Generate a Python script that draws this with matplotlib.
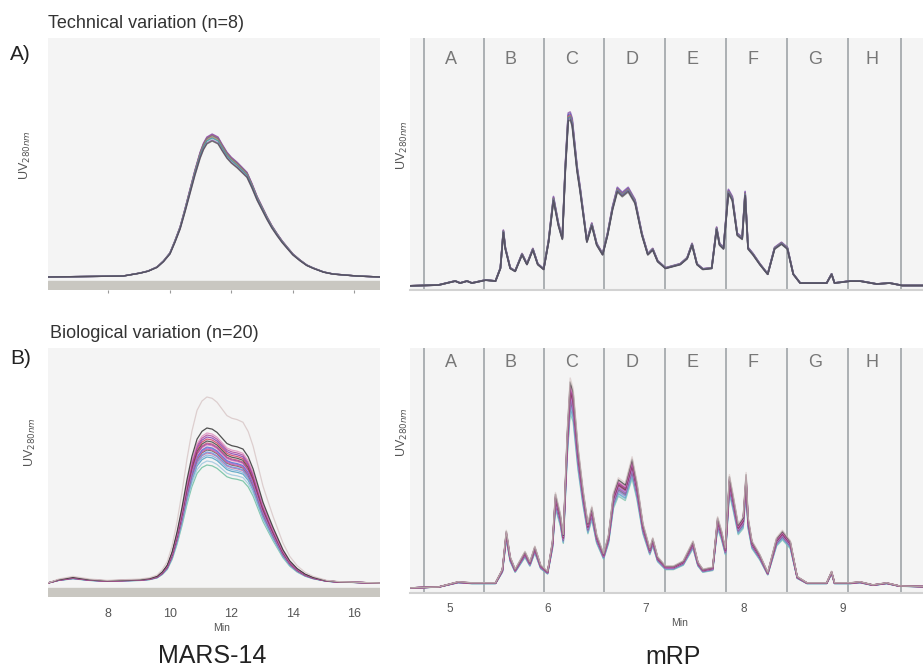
import numpy as np
import matplotlib
matplotlib.use("Agg")
import matplotlib.pyplot as plt

plt.rcParams['font.family'] = ['Liberation Sans', 'DejaVu Sans']

# MARS-14 profile (min, UV)
mars_t = [6.05, 8.49, 9.04, 9.3, 9.59, 9.8, 10.01, 10.17, 10.34, 10.5, 10.66, 10.82,
          10.99, 11.1, 11.21, 11.38, 11.57, 11.7, 11.86, 12.0, 12.19, 12.35, 12.51,
          12.67, 12.84, 13.0, 13.16, 13.32, 13.49, 13.65, 13.81, 14.0, 14.23, 14.45,
          14.66, 15.0, 15.31, 16.08, 16.83]
mars_tech = [0, 1, 4, 6, 10, 16, 24, 36, 50, 68, 87, 106,
             124, 133, 139, 142, 139, 132, 124, 119, 114, 109, 104,
             93, 80, 70, 60, 51, 43, 36, 30, 23, 17, 12,
             9, 5, 3, 1, 0]

mars_bio_t = [6.05, 6.4, 6.86, 7.4, 7.97, 9.04, 9.35, 9.59, 9.76, 9.92, 10.08, 10.24,
              10.4, 10.56, 10.72, 10.89, 11.05, 11.21, 11.38, 11.54, 11.7, 11.86, 12.02,
              12.19, 12.38, 12.55, 12.71, 12.87, 13.03, 13.2, 13.36, 13.52, 13.68, 13.9,
              14.14, 14.4, 14.66, 15.1, 15.53, 16.83]
mars_bio = [0, 3, 5, 3, 2, 3, 4, 6, 10, 16, 28, 46,
            68, 93, 114, 130, 137, 140, 139, 136, 131, 126, 124,
            123, 121, 114, 103, 88, 73, 61, 50, 40, 30, 20,
            13, 8, 5, 2, 1, 0]

# peak heights of the individual runs
mars_tech_peaks = [143, 142, 142, 141, 140, 139, 137, 136]
mars_bio_peaks = [186, 155, 150, 148, 146, 144, 142, 140, 139, 138,
                  136, 135, 134, 133, 131, 130, 128, 126, 122, 118]

# mRP profiles
mrp_t = [4.55, 4.89, 5.06, 5.11, 5.18, 5.23, 5.37, 5.47, 5.52, 5.55, 5.57, 5.62, 5.67,
         5.74, 5.79, 5.85, 5.90, 5.96, 6.01, 6.06, 6.11, 6.15, 6.18, 6.21, 6.23, 6.25,
         6.30, 6.33, 6.40, 6.45, 6.50, 6.56, 6.61, 6.66, 6.71, 6.76, 6.82, 6.89, 6.96,
         7.02, 7.07, 7.12, 7.20, 7.35, 7.42, 7.47, 7.52, 7.58, 7.67, 7.72, 7.75, 7.79,
         7.84, 7.88, 7.93, 7.98, 8.01, 8.04, 8.09, 8.16, 8.24, 8.31, 8.38, 8.44, 8.50,
         8.57, 8.84, 8.89, 8.92, 9.08, 9.18, 9.35, 9.48, 9.61, 9.82]
mrp_tech = [0, 1, 5, 3, 5, 3, 6, 5, 18, 55, 38, 18, 15,
            32, 22, 37, 22, 17, 45, 88, 62, 48, 118, 170, 171, 165,
            118, 98, 45, 62, 42, 32, 52, 78, 97, 92, 97, 85, 52,
            32, 37, 25, 18, 22, 28, 42, 22, 17, 18, 58, 42, 38,
            95, 88, 52, 48, 93, 38, 32, 22, 12, 38, 43, 38, 12,
            3, 3, 12, 3, 5, 5, 2, 3, 0.5, 0.5]

mrp_bio_t = [4.55, 4.89, 5.09, 5.23, 5.47, 5.54, 5.58, 5.62, 5.67, 5.77, 5.82, 5.87,
             5.93, 6.00, 6.05, 6.08, 6.13, 6.16, 6.20, 6.23, 6.26, 6.31, 6.36, 6.41,
             6.45, 6.50, 6.57, 6.62, 6.67, 6.72, 6.79, 6.86, 6.91, 6.97, 7.04, 7.07,
             7.12, 7.20, 7.28, 7.38, 7.48, 7.53, 7.58, 7.68, 7.73, 7.77, 7.81, 7.85,
             7.89, 7.94, 7.99, 8.02, 8.04, 8.08, 8.16, 8.24, 8.33, 8.39, 8.47, 8.54,
             8.64, 8.84, 8.89, 8.92, 9.08, 9.18, 9.31, 9.45, 9.58, 9.82]
mrp_bio = [0, 1, 6, 5, 5, 18, 55, 30, 18, 35, 25, 40,
           22, 16, 45, 91, 71, 51, 150, 200, 190, 135, 95, 62,
           78, 51, 33, 51, 91, 105, 100, 125, 101, 62, 38, 48,
           30, 21, 21, 26, 45, 25, 18, 20, 68, 55, 38, 108,
           88, 61, 68, 110, 68, 45, 32, 15, 48, 55, 45, 11,
           5, 5, 16, 5, 5, 6, 3, 5, 2, 1.5]

mrp_tech_peaks = [174, 172, 171, 170, 170, 169, 168, 166]
mrp_bio_peaks = [210, 206, 203, 201, 200, 199, 197, 196, 195, 193,
                 192, 190, 190, 188, 186, 185, 183, 180, 178, 175]

fractions = ['A', 'B', 'C', 'D', 'E', 'F', 'G', 'H']
frac_edges = [4.74, 5.35, 5.965, 6.575, 7.195, 7.815, 8.435, 9.06, 9.60]

tech_colors = ['#7b3f9e', '#3a5fcd', '#d04a7a', '#4a9a6a', '#e07070',
               '#20a0a0', '#8a5aa8', '#4a4a4a']
bio_colors = ['#d9c8c8', '#333333', '#e090c0', '#b04a9a', '#8a3fb0', '#d04060',
              '#444444', '#c05080', '#9a4ab0', '#f090c0', '#5a70d0', '#a070d0',
              '#e05a9a', '#606060', '#7090e0', '#c070a0', '#80b0e0', '#50a0c0',
              '#a0c8e0', '#70c0a0']
bg = '#f4f4f4'

fig = plt.figure(figsize=(9.23, 6.72), dpi=100)


def px_axes(x0, y0, x1, y1):
    return fig.add_axes([x0 / 923, 1 - y1 / 672, (x1 - x0) / 923, (y1 - y0) / 672])


def draw_traces(ax, t, prof, peaks, colors, lw=1.0, alpha=0.85, top_last=False):
    prof = np.array(prof, dtype=float)
    ref = prof.max()
    order = list(range(len(peaks)))
    if not top_last:
        order = order[::-1]
    for i in order:
        ax.plot(t, prof * peaks[i] / ref, color=colors[i], lw=lw, alpha=alpha,
                solid_joinstyle='round')


def style_left(ax, ylim, bar, labels):
    ax.set_facecolor(bg)
    for s in ax.spines.values():
        s.set_visible(False)
    ax.axhspan(bar[0], bar[1], color='#c9c7c1', zorder=0.5)
    ax.set_xlim(6.05, 16.83)
    ax.set_ylim(*ylim)
    ax.set_yticks([])
    ax.set_xticks([8, 10, 12, 14, 16])
    if labels:
        ax.tick_params(axis='x', length=0, pad=8, labelsize=9, labelcolor='#555555')
    else:
        ax.tick_params(axis='x', length=2, color='#999999', labelbottom=False)


def style_right(ax, ylim, letter_y, labels):
    ax.set_facecolor(bg)
    for s in ['top', 'right', 'left']:
        ax.spines[s].set_visible(False)
    ax.spines['bottom'].set_color('#d2d2d2')
    ax.spines['bottom'].set_linewidth(1.5)
    ax.set_xlim(4.60, 9.82)
    ax.set_ylim(*ylim)
    ax.set_yticks([])
    for e in frac_edges:
        ax.axvline(e, color='#a6aaae', lw=1.3, zorder=1)
    for i, f in enumerate(fractions):
        mid = (frac_edges[i] + frac_edges[i + 1]) / 2 - 0.03
        ax.text(mid, letter_y, f, transform=ax.get_xaxis_transform(), ha='center',
                va='center', fontsize=13, color='#777777')
    ax.set_xticks([5, 6, 7, 8, 9])
    if labels:
        ax.tick_params(axis='x', length=0, pad=7, labelsize=8.5, labelcolor='#555555')
    else:
        ax.tick_params(axis='x', length=0, labelbottom=False)


ax1 = px_axes(48, 38, 380, 290)
style_left(ax1, (-13, 239), (-13, -4), False)
draw_traces(ax1, mars_t, mars_tech, mars_tech_peaks, tech_colors, alpha=0.75,
            top_last=True)

ax2 = px_axes(410, 38, 923, 290)
style_right(ax2, (-4, 248), 0.913, False)
draw_traces(ax2, mrp_t, mrp_tech, mrp_tech_peaks, tech_colors, lw=1.2, alpha=0.7,
            top_last=True)

ax3 = px_axes(48, 348, 380, 597)
style_left(ax3, (-14, 235), (-14, -5), True)
draw_traces(ax3, mars_bio_t, mars_bio, mars_bio_peaks, bio_colors, lw=0.9)

ax4 = px_axes(410, 348, 923, 593)
style_right(ax4, (-5, 240), 0.939, True)
draw_traces(ax4, mrp_bio_t, mrp_bio, mrp_bio_peaks, bio_colors, lw=1.0, alpha=0.7)

# figure texts
fig.text(48 / 923, 1 - 24 / 672, 'Technical variation (n=8)', fontsize=13,
         color='#333333', va='center')
fig.text(10 / 923, 1 - 54 / 672, 'A)', fontsize=15, color='#222222', va='center')
fig.text(50 / 923, 1 - 333 / 672, 'Biological variation (n=20)', fontsize=13,
         color='#333333', va='center')
fig.text(10 / 923, 1 - 359 / 672, 'B)', fontsize=15, color='#222222', va='center')

for (x, y) in [(25, 155), (30, 442), (402, 145), (402, 432)]:
    fig.text(x / 923, 1 - y / 672, r'UV$_{280nm}$', rotation=90, fontsize=9,
             color='#555555', ha='center', va='center')

fig.text(222 / 923, 1 - 628 / 672, 'Min', fontsize=7.5, color='#555555',
         ha='center', va='center')
fig.text(680 / 923, 1 - 623 / 672, 'Min', fontsize=7.5, color='#555555',
         ha='center', va='center')
fig.text(212 / 923, 1 - 656 / 672, 'MARS-14', fontsize=18, color='#222222',
         ha='center', va='center')
fig.text(673 / 923, 1 - 657 / 672, 'mRP', fontsize=18, color='#222222',
         ha='center', va='center')

fig.savefig('out.png', dpi=100)
